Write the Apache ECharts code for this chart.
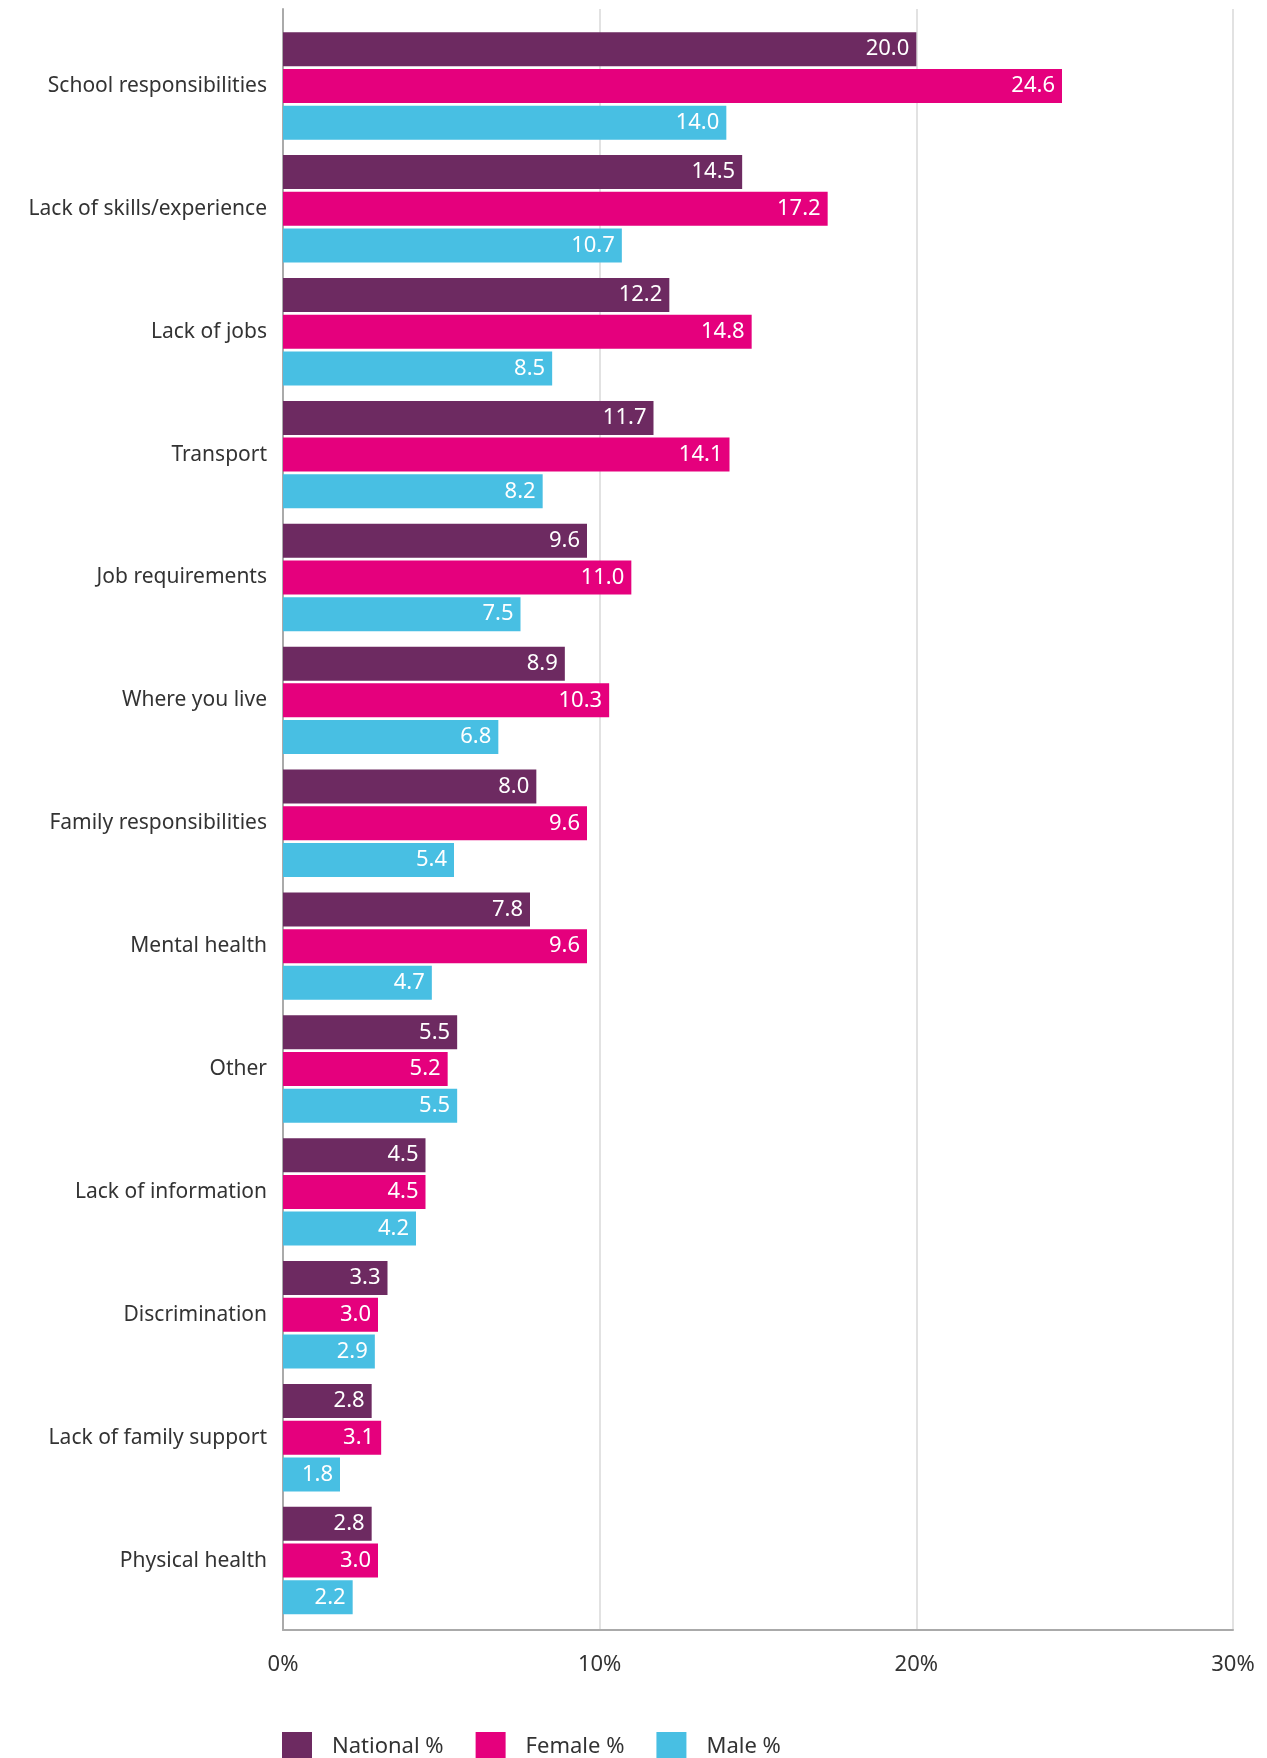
<!DOCTYPE html>
<html>
<head>
<meta charset="utf-8">
<script src="https://cdn.jsdelivr.net/npm/echarts@6/dist/echarts.min.js"></script>
<style>
  html, body { margin: 0; padding: 0; background: #fff; }
  #chart { width: 1267px; height: 1758px; }
</style>
</head>
<body>
<div id="chart"></div>
<script>
const categories = [
  "School responsibilities", "Lack of skills/experience", "Lack of jobs", "Transport",
  "Job requirements", "Where you live", "Family responsibilities", "Mental health",
  "Other", "Lack of information", "Discrimination", "Lack of family support", "Physical health"
];
const national = [20.0, 14.5, 12.2, 11.7, 9.6, 8.9, 8.0, 7.8, 5.5, 4.5, 3.3, 2.8, 2.8];
const female = [24.6, 17.2, 14.8, 14.1, 11.0, 10.3, 9.6, 9.6, 5.2, 4.5, 3.0, 3.1, 3.0];
const male = [14.0, 10.7, 8.5, 8.2, 7.5, 6.8, 5.4, 4.7, 5.5, 4.2, 2.9, 1.8, 2.2];
const xTicks = [0, 10, 20, 30];

const colors = { national: "#6d2a61", female: "#e5007d", male: "#48bfe3" };
const font = "Noto Sans";

const barLabel = {
  show: true,
  position: "insideRight",
  distance: 7,
  color: "#fff",
  fontFamily: font,
  fontSize: 22,
  formatter: p => p.value.toFixed(1)
};

const makeSeries = (name, data, color) => ({
  name: name,
  type: "bar",
  xAxisIndex: 0,
  yAxisIndex: 0,
  data: data,
  barWidth: 34,
  barGap: "8%",
  itemStyle: { color: color },
  label: barLabel,
  emphasis: { disabled: true }
});

const chart = echarts.init(document.getElementById("chart"));
chart.setOption({
  animation: false,
  color: [colors.national, colors.female, colors.male],
  grid: [
    { left: 283, right: 34, top: 24.5, bottom: 136 },
    { left: 283, right: 34, top: 9, bottom: 128 }
  ],
  legend: {
    left: 277,
    top: 1727,
    itemWidth: 30,
    itemHeight: 29,
    itemGap: 32,
    icon: "rect",
    textStyle: { fontFamily: font, fontSize: 22, color: "#333", padding: [0, 0, 0, 15] },
    data: ["National %", "Female %", "Male %"]
  },
  xAxis: [
    {
      gridIndex: 0, type: "value", min: xTicks[0], max: xTicks[xTicks.length - 1], interval: 10,
      axisLine: { show: false }, axisTick: { show: false }, axisLabel: { show: false },
      splitLine: { show: false }
    },
    {
      gridIndex: 1, type: "value", min: xTicks[0], max: xTicks[xTicks.length - 1], interval: 10,
      axisLine: { show: true, lineStyle: { color: "#aaa", width: 2 } },
      axisTick: { show: false },
      axisLabel: {
        margin: 24, color: "#333", fontFamily: font, fontSize: 22,
        formatter: v => v + "%"
      },
      splitLine: { show: true, lineStyle: { color: "#e2e2e2", width: 2 } }
    }
  ],
  yAxis: [
    {
      gridIndex: 0, type: "category", inverse: true, data: categories,
      axisLine: { show: false }, axisTick: { show: false },
      axisLabel: { margin: 16, color: "#333", fontFamily: font, fontSize: 21 }
    },
    {
      gridIndex: 1, type: "category", data: [""],
      axisLine: { show: true, lineStyle: { color: "#aaa", width: 2 } },
      axisTick: { show: false }, axisLabel: { show: false }
    }
  ],
  series: [
    makeSeries("National %", national, colors.national),
    makeSeries("Female %", female, colors.female),
    makeSeries("Male %", male, colors.male)
  ]
});
</script>
</body>
</html>
